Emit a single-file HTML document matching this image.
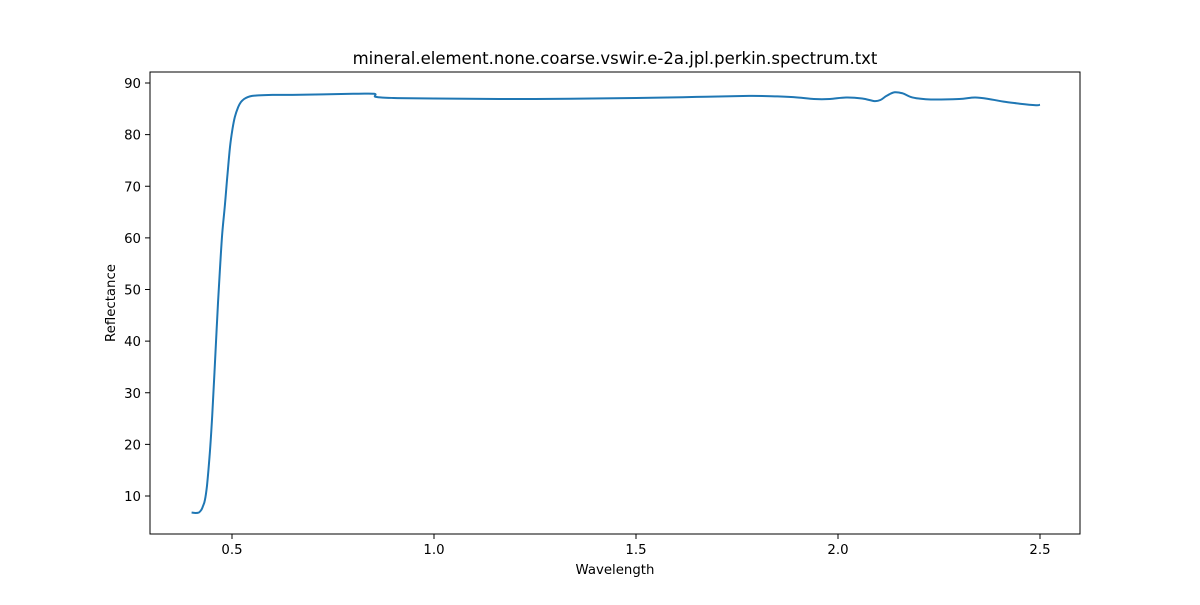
<!DOCTYPE html>
<html><head><meta charset="utf-8"><style>body{margin:0;background:#fff}svg text{font-family:"DejaVu Sans","Liberation Sans",sans-serif;fill:#000}</style></head>
<body>
<svg id="chart" width="1200" height="600" xmlns="http://www.w3.org/2000/svg">
<rect width="1200" height="600" fill="#fff"/>
<text x="615" y="64" font-size="16.5" text-anchor="middle">mineral.element.none.coarse.vswir.e-2a.jpl.perkin.spectrum.txt</text>
<g id="ticks"></g>
<path id="line" fill="none" stroke="#1f77b4" stroke-width="2" stroke-linejoin="round"/>
<rect x="150" y="72" width="930" height="462" fill="none" stroke="#000" stroke-width="1"/>
<text x="615" y="574" font-size="13.3" text-anchor="middle">Wavelength</text>
<text x="115" y="303" font-size="13.3" text-anchor="middle" transform="rotate(-90 115 303)">Reflectance</text>
</svg>
<script>
const wavelength=[0.40,0.41,0.418,0.424,0.428,0.433,0.438,0.445,0.451,0.457,0.463,0.47,0.476,0.483,0.489,0.495,0.501,0.507,0.515,0.522,0.53,0.54,0.55,0.565,0.6,0.65,0.8,0.852,0.856,0.9,1.0,1.25,1.5,1.65,1.78,1.85,1.9,1.94,1.98,2.02,2.06,2.09,2.105,2.12,2.14,2.16,2.18,2.2,2.23,2.3,2.34,2.38,2.41,2.45,2.49,2.5];
const reflectance=[6.8,6.7,6.8,7.3,8.0,9.2,12.0,18.3,25.5,34.4,44.0,53.8,61.0,66.8,72.5,77.6,81.0,83.4,85.3,86.3,86.9,87.3,87.5,87.6,87.7,87.7,87.9,87.9,87.3,87.1,87.0,86.9,87.1,87.3,87.5,87.4,87.2,86.9,86.9,87.2,87.0,86.5,86.7,87.5,88.2,88.0,87.3,87.0,86.8,86.9,87.2,86.8,86.4,86.0,85.7,85.8];
const xTicks=[0.5,1.0,1.5,2.0,2.5];
const yTicks=[10,20,30,40,50,60,70,80,90];
const X=w=>434+(w-1)*404;
const Y=v=>496-(v-10)*5.1625;
const ns='http://www.w3.org/2000/svg';
const g=document.getElementById('ticks');
function mk(t,a){const e=document.createElementNS(ns,t);for(const k in a)e.setAttribute(k,a[k]);g.appendChild(e);return e;}
xTicks.forEach(t=>{
 const l=mk('line',{x1:X(t),x2:X(t),y1:534,y2:539,stroke:'#000'});
 
 
 const s=mk('text',{x:X(t),y:554,'font-size':13.3,'text-anchor':'middle'});s.textContent=t.toFixed(1);
 
 
});
yTicks.forEach(t=>{
 const l=mk('line',{x1:145,x2:150,y1:Y(t),y2:Y(t),stroke:'#000'});
 
 
 const s=mk('text',{x:141,y:Y(t)+5,'font-size':13.3,'text-anchor':'end'});s.textContent=t;
 
 
});
// Catmull-Rom smoothing through data points
const P=wavelength.map((w,i)=>[X(w),Y(reflectance[i])]);
let d='M'+P[0][0].toFixed(1)+','+P[0][1].toFixed(1);
for(let i=0;i<P.length-1;i++){
 const p0=P[Math.max(i-1,0)],p1=P[i],p2=P[i+1],p3=P[Math.min(i+2,P.length-1)];
 const c1=[p1[0]+(p2[0]-p0[0])/6,p1[1]+(p2[1]-p0[1])/6];
 const c2=[p2[0]-(p3[0]-p1[0])/6,p2[1]-(p3[1]-p1[1])/6];
 d+='C'+c1.map(v=>v.toFixed(1)).join(',')+' '+c2.map(v=>v.toFixed(1)).join(',')+' '+p2.map(v=>v.toFixed(1)).join(',');
}
document.getElementById('line').setAttribute('d',d);
</script>
</body></html>
